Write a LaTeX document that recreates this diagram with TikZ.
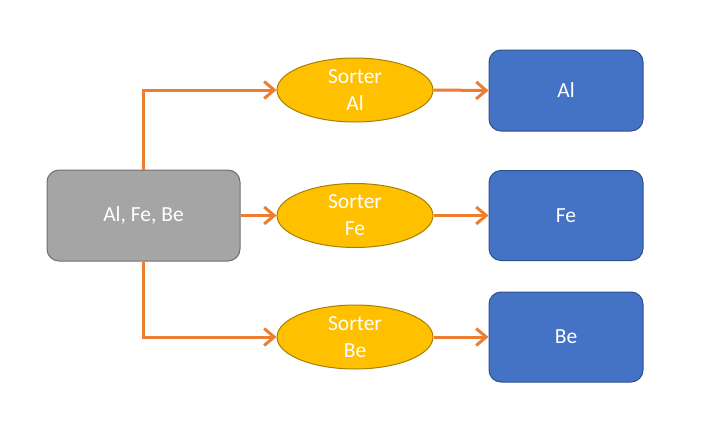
\documentclass[tikz,border=0pt]{standalone}
\usepackage{fontspec}
\setmainfont{Carlito}
\usetikzlibrary{shapes.geometric,arrows.meta}
\definecolor{pfeil}{HTML}{ED7D31}
\definecolor{grau}{HTML}{A5A5A5}
\definecolor{graurand}{HTML}{707070}
\definecolor{sortgelb}{HTML}{FFC000}
\definecolor{sortrand}{HTML}{A88000}
\definecolor{blau}{HTML}{4472C4}
\definecolor{blaurand}{HTML}{2F528F}
\tikzset{
  box/.style={draw,line width=1pt,rounded corners=12pt,text=white,minimum width=154pt,font=\fontsize{21.5}{27}\selectfont},
  sorter/.style={ellipse,draw=sortrand,fill=sortgelb,line width=1pt,minimum width=156pt,minimum height=64pt,inner sep=0pt,align=center,text=white,font=\fontsize{21.5}{27}\selectfont},
  pf/.style={draw=pfeil,line width=3pt,-{Straight Barb[length=10pt,width=17pt]}}
}
\begin{document}
\begin{tikzpicture}[x=1pt,y=-1pt]
      \useasboundingbox (0,0) rectangle (726,429);
      \node[box,draw=graurand,fill=grau,minimum width=193pt,minimum height=91pt] (mix) at (143.5,215.5) {Al, Fe, Be};
      \node[sorter] (sAl) at (355,90) {Sorter\\Al};
      \node[sorter] (sFe) at (355,215.5) {Sorter\\Fe};
      \node[sorter] (sBe) at (355,337) {Sorter\\Be};
      \node[box,draw=blaurand,fill=blau,minimum height=81pt] (Al) at (566,90.5) {Al};
      \node[box,draw=blaurand,fill=blau,minimum height=90pt] (Fe) at (566,215.5) {Fe};
      \node[box,draw=blaurand,fill=blau,minimum height=90pt] (Be) at (566,337) {Be};
      \draw[pf] (mix.north) |- (sAl.west);
      \draw[pf] (mix.east) -- (sFe.west);
      \draw[pf] (mix.south) |- (sBe.west);
      \draw[pf] (sAl.east) -- (Al.west);
      \draw[pf] (sFe.east) -- (Fe.west);
      \draw[pf] (sBe.east) -- (Be.west);
    \end{tikzpicture}
\end{document}
